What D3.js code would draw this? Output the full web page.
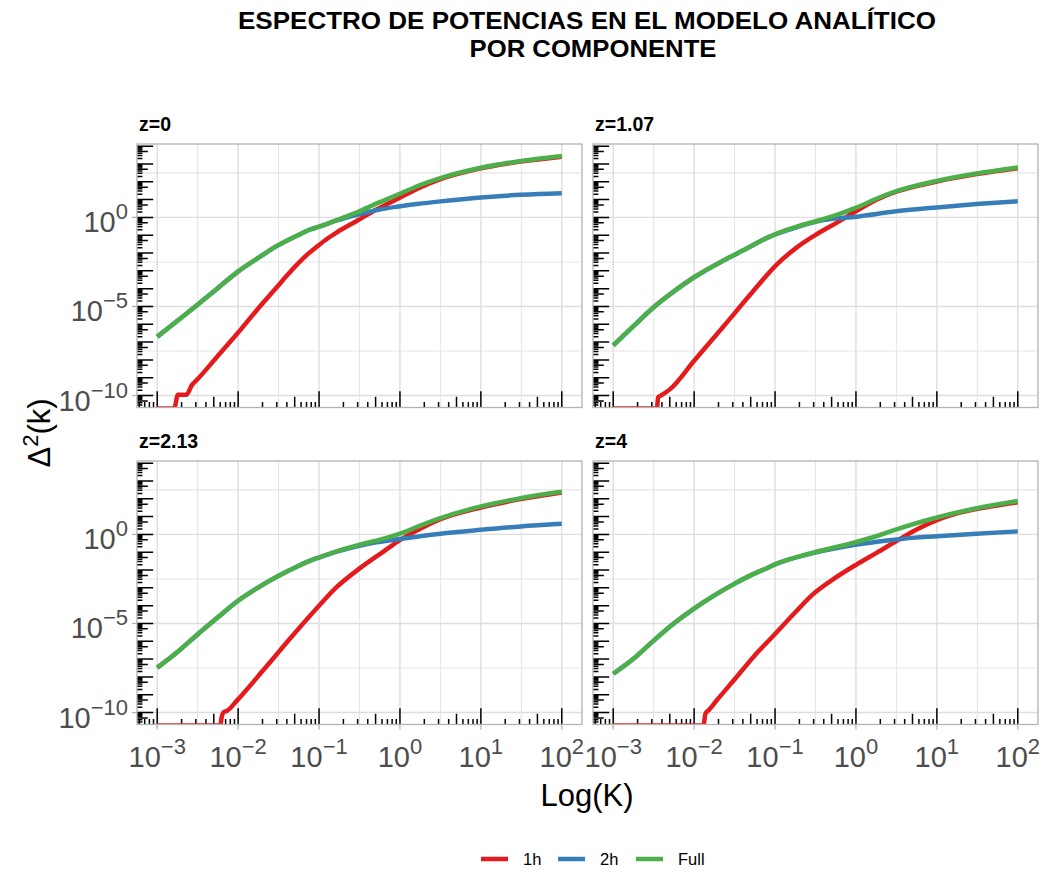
<!DOCTYPE html>
<html><head><meta charset="utf-8">
<script src="https://cdn.jsdelivr.net/npm/d3@7"></script>
<style>body{margin:0;background:#fff}svg{display:block}text{font-family:"Liberation Sans",Arial,Helvetica,sans-serif}</style>
</head><body>
<svg id="c" width="1044" height="875"></svg>
<script>
// ---- data: [log10 k, log10 Δ²(k)] ----
const panelLabels = ["z=0", "z=1.07", "z=2.13", "z=4"];
const seriesNames = ["1h", "2h", "Full"];
const seriesColors = ["#E41A1C", "#377EB8", "#4DAF4A"];
const xTickExps = [-3, -2, -1, 0, 1, 2];
const yTickExps = [-10, -5, 0];

const h1_z0 = [[-3,-10.72],[-2.79,-10.72],[-2.745,-9.96],[-2.64,-9.96],[-2.57,-9.4],[-2.51,-9.12],[-2.26,-7.82],[-2.01,-6.52],[-1.77,-5.21],[-1.52,-3.91],[-1.4,-3.28],[-1.27,-2.64],[-1.15,-2.1],[-1.02,-1.62],[-0.9,-1.2],[-0.78,-0.84],[-0.53,-0.19],[-0.28,0.47],[-0.04,1.02],[0.21,1.6],[0.5,2.15],[1,2.76],[1.5,3.14],[2,3.41]];
const h2_z0 = [[-3,-6.7],[-2.75,-5.8],[-2.51,-4.93],[-2.26,-4.0],[-2.01,-3.07],[-1.77,-2.33],[-1.52,-1.6],[-1.27,-1.02],[-1.11,-0.68],[-1,-0.52],[-0.78,-0.17],[-0.53,0.15],[-0.28,0.42],[-0.04,0.6],[0.21,0.75],[0.5,0.9],[1,1.12],[1.5,1.27],[2,1.36]];
const full_z0 = [[-3,-6.7],[-2.75,-5.8],[-2.51,-4.93],[-2.26,-4.0],[-2.01,-3.07],[-1.77,-2.33],[-1.52,-1.6],[-1.27,-1.02],[-1.11,-0.68],[-1,-0.52],[-0.78,-0.15],[-0.53,0.28],[-0.28,0.8],[-0.04,1.25],[0.25,1.82],[0.5,2.21],[1,2.79],[1.5,3.17],[2,3.45]];

const h1_z107 = [[-3,-10.72],[-2.46,-10.72],[-2.445,-10.1],[-2.41,-10.0],[-2.29,-9.61],[-2,-8.05],[-1.63,-6.08],[-1.3,-4.3],[-0.98,-2.65],[-0.73,-1.68],[-0.48,-0.93],[-0.23,-0.28],[0.01,0.37],[0.26,1.0],[0.5,1.44],[1,2.01],[1.49,2.43],[2,2.76]];
const h2_z107 = [[-3,-7.18],[-2.75,-6.1],[-2.5,-5.04],[-2.25,-4.15],[-2,-3.36],[-1.63,-2.4],[-1.35,-1.75],[-1.1,-1.15],[-1,-0.96],[-0.73,-0.55],[-0.4,-0.15],[0.01,0.04],[0.5,0.34],[1,0.56],[1.49,0.75],[2,0.91]];
const full_z107 = [[-3,-7.18],[-2.75,-6.1],[-2.5,-5.04],[-2.25,-4.15],[-2,-3.36],[-1.63,-2.4],[-1.35,-1.75],[-1.1,-1.15],[-1,-0.95],[-0.73,-0.52],[-0.4,-0.09],[-0.15,0.28],[0.01,0.56],[0.26,1.06],[0.5,1.47],[1,2.05],[1.49,2.46],[2,2.8]];

const h1_z213 = [[-3,-10.72],[-2.22,-10.72],[-2.205,-10.3],[-2.18,-9.98],[-2.14,-9.91],[-2.01,-9.3],[-1.68,-7.57],[-1.35,-5.8],[-1.02,-4.1],[-0.78,-2.95],[-0.49,-1.88],[-0.2,-0.95],[0,-0.32],[0.25,0.32],[0.5,0.85],[1,1.51],[1.49,1.98],[2,2.35]];
const h2_z213 = [[-3,-7.48],[-2.75,-6.6],[-2.5,-5.6],[-2.25,-4.65],[-2.01,-3.75],[-1.76,-3.0],[-1.51,-2.35],[-1.27,-1.8],[-1.1,-1.46],[-1,-1.3],[-0.78,-0.97],[-0.45,-0.58],[0,-0.26],[0.5,0.04],[1,0.26],[1.49,0.45],[2,0.6]];
const full_z213 = [[-3,-7.48],[-2.75,-6.6],[-2.5,-5.6],[-2.25,-4.65],[-2.01,-3.75],[-1.76,-3.0],[-1.51,-2.35],[-1.27,-1.8],[-1.1,-1.46],[-1,-1.29],[-0.78,-0.95],[-0.45,-0.52],[-0.2,-0.24],[0,0.04],[0.25,0.49],[0.5,0.91],[1,1.57],[1.49,2.03],[2,2.39]];

const h1_z4 = [[-3,-10.72],[-1.885,-10.72],[-1.86,-10.06],[-1.82,-9.87],[-1.72,-9.31],[-1.51,-8.19],[-1.27,-6.89],[-1,-5.59],[-0.77,-4.47],[-0.53,-3.35],[-0.28,-2.51],[0.01,-1.68],[0.26,-1.02],[0.5,-0.37],[0.75,0.28],[1,0.8],[1.25,1.18],[1.49,1.42],[2,1.81]];
const h2_z4 = [[-3,-7.82],[-2.75,-6.98],[-2.5,-5.96],[-2.26,-5.03],[-2.01,-4.19],[-1.76,-3.45],[-1.51,-2.79],[-1.27,-2.23],[-1.1,-1.9],[-1,-1.68],[-0.86,-1.46],[-0.53,-1.05],[-0.03,-0.6],[0.26,-0.41],[0.5,-0.28],[0.83,-0.15],[1,-0.1],[1.49,0.03],[2,0.17]];
const full_z4 = [[-3,-7.82],[-2.75,-6.98],[-2.5,-5.96],[-2.26,-5.03],[-2.01,-4.19],[-1.76,-3.45],[-1.51,-2.79],[-1.27,-2.23],[-1.1,-1.9],[-1,-1.68],[-0.86,-1.45],[-0.53,-1.02],[-0.03,-0.47],[0.26,-0.09],[0.5,0.28],[0.83,0.74],[1,0.95],[1.49,1.47],[2,1.88]];

const panelSeries = [
  [h1_z0, h2_z0, full_z0],
  [h1_z107, h2_z107, full_z107],
  [h1_z213, h2_z213, full_z213],
  [h1_z4, h2_z4, full_z4]
];

// ---- layout ----
const svg = d3.select("#c");
const W = 445, H = 263.5;
const panelPos = [[137,144],[593,144],[137,461],[593,461]];

const x = d3.scaleLog().domain([Math.pow(10,-3.25), Math.pow(10,2.25)]).range([0, W]);
const y = d3.scaleLog().domain([Math.pow(10,-10.67), Math.pow(10,4.12)]).range([H, 0]);

const line = d3.line()
  .x(d => x(Math.pow(10, d[0])))
  .y(d => y(Math.pow(10, d[1])))
  .curve(d3.curveMonotoneX);

// title (two separate lines)
svg.append("text").attr("x", 587).attr("y", 28.5).attr("text-anchor","middle").attr("font-weight","bold")
  .attr("font-size", 24.8).attr("fill","#000")
  .attr("textLength", 698).attr("lengthAdjust", "spacingAndGlyphs")
  .text("ESPECTRO DE POTENCIAS EN EL MODELO ANALÍTICO");
svg.append("text").attr("x", 593).attr("y", 56.5).attr("text-anchor","middle").attr("font-weight","bold")
  .attr("font-size", 24.8).attr("fill","#000")
  .attr("textLength", 247).attr("lengthAdjust", "spacingAndGlyphs")
  .text("POR COMPONENTE");

panelPos.forEach((p, i) => {
  const g = svg.append("g").attr("transform", `translate(${p[0]},${p[1]})`);
  const clipId = "clip" + i;
  g.append("clipPath").attr("id", clipId).append("rect").attr("width", W).attr("height", H);

  // grid
  const grid = g.append("g");
  const xMinor = [-2.5,-1.5,-0.5,0.5,1.5];
  const yMinor = [-7.5,-2.5,2.5];
  xMinor.forEach(e => grid.append("line").attr("x1", x(Math.pow(10,e))).attr("x2", x(Math.pow(10,e)))
    .attr("y1",0).attr("y2",H).attr("stroke","#e6e6e6").attr("stroke-width",1.1));
  yMinor.forEach(e => grid.append("line").attr("y1", y(Math.pow(10,e))).attr("y2", y(Math.pow(10,e)))
    .attr("x1",0).attr("x2",W).attr("stroke","#e6e6e6").attr("stroke-width",1.1));
  xTickExps.forEach(e => grid.append("line").attr("x1", x(Math.pow(10,e))).attr("x2", x(Math.pow(10,e)))
    .attr("y1",0).attr("y2",H).attr("stroke","#dedede").attr("stroke-width",1.4));
  yTickExps.forEach(e => grid.append("line").attr("y1", y(Math.pow(10,e))).attr("y2", y(Math.pow(10,e)))
    .attr("x1",0).attr("x2",W).attr("stroke","#dedede").attr("stroke-width",1.4));

  // log ticks (annotation_logticks style)
  const lt = g.append("g").attr("clip-path", `url(#${clipId})`).attr("stroke","#000").attr("stroke-width",1.5);
  const tickLen = m => m === 1 ? 16.2 : (m === 5 ? 10.8 : 5.4);
  for (let d = -5; d <= 3; d++) for (let m = 1; m <= 9; m++) {
    const xv = x(m * Math.pow(10, d));
    lt.append("line").attr("x1", xv).attr("x2", xv).attr("y1", H).attr("y2", H - tickLen(m));
  }
  for (let d = -12; d <= 5; d++) for (let m = 1; m <= 9; m++) {
    const yv = y(m * Math.pow(10, d));
    lt.append("line").attr("y1", yv).attr("y2", yv).attr("x1", 0).attr("x2", tickLen(m));
  }

  // series
  const sg = g.append("g").attr("clip-path", `url(#${clipId})`);
  panelSeries[i].forEach((s, j) => {
    sg.append("path").attr("d", line(s)).attr("fill","none")
      .attr("stroke", seriesColors[j]).attr("stroke-width", 4.5);
  });

  // border
  g.append("rect").attr("width", W).attr("height", H).attr("fill","none")
    .attr("stroke","#b3b3b3").attr("stroke-width",1.3);

  // strip label
  g.append("text").attr("x", 2).attr("y", -13).attr("font-weight","bold").attr("font-size", 19.5)
    .attr("fill","#000").text(panelLabels[i]);

  // axes
  if (i % 2 === 0) {
    yTickExps.forEach(e => {
      const yv = y(Math.pow(10, e));
      g.append("line").attr("x1",-5).attr("x2",0).attr("y1",yv).attr("y2",yv)
        .attr("stroke","#b3b3b3").attr("stroke-width",1.3);
      const t = g.append("text").attr("x", -9).attr("y", yv + 15).attr("text-anchor","end")
        .attr("fill","#4d4d4d").attr("font-size", 29);
      t.append("tspan").text("10");
      t.append("tspan").attr("dy", -13).attr("font-size", 22).text(e < 0 ? "\u2212" + (-e) : String(e));
    });
  }
  if (i >= 2) {
    xTickExps.forEach(e => {
      const xv = x(Math.pow(10, e));
      g.append("line").attr("x1",xv).attr("x2",xv).attr("y1",H).attr("y2",H+5)
        .attr("stroke","#b3b3b3").attr("stroke-width",1.3);
      const t = g.append("text").attr("x", xv).attr("y", H + 42).attr("text-anchor","middle")
        .attr("fill","#4d4d4d").attr("font-size", 29);
      t.append("tspan").text("10");
      t.append("tspan").attr("dy", -13).attr("font-size", 22).text(e < 0 ? "\u2212" + (-e) : String(e));
    });
  }
});

// axis titles
svg.append("text").attr("x", 587).attr("y", 806).attr("text-anchor","middle")
  .attr("font-size", 31).attr("fill","#000").text("Log(K)");
const yt = svg.append("text").attr("transform","translate(50,433) rotate(-90)")
  .attr("text-anchor","middle").attr("font-size", 31).attr("fill","#000");
yt.append("tspan").text("\u0394");
yt.append("tspan").attr("dy", -12).attr("font-size", 22).text("2");
yt.append("tspan").attr("dy", 12).text("(k)");

// legend
const legX = [481, 558, 636];
seriesNames.forEach((n, j) => {
  svg.append("line").attr("x1", legX[j]).attr("x2", legX[j] + 27).attr("y1", 859).attr("y2", 859)
    .attr("stroke", seriesColors[j]).attr("stroke-width", 4.5);
  svg.append("text").attr("x", legX[j] + 42).attr("y", 865).attr("font-size", 16.5)
    .attr("fill","#000").text(n);
});
</script>
</body></html>
